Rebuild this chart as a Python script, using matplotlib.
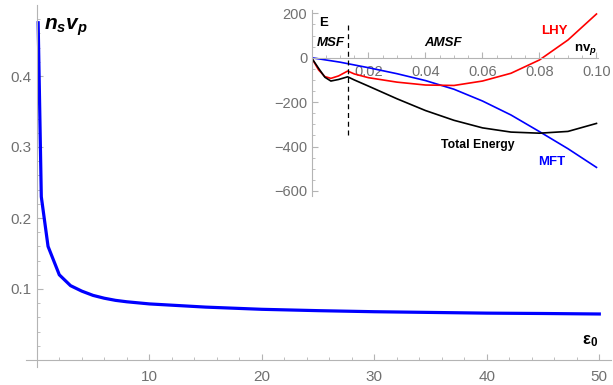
import numpy as np
import matplotlib
matplotlib.use("Agg")
import matplotlib.pyplot as plt

plt.rcParams['font.family'] = ['Liberation Sans', 'DejaVu Sans']
plt.rcParams['mathtext.fontset'] = 'custom'
plt.rcParams['mathtext.rm'] = 'Liberation Sans:bold'
plt.rcParams['mathtext.it'] = 'Liberation Sans:italic:bold'
plt.rcParams['mathtext.bf'] = 'Liberation Sans:bold'

# ==========================================
# DATA
# ==========================================
# main curve: n_s v_p against epsilon_0
eps0 = [0.12, 0.4, 1, 2, 3, 4, 5, 6, 7, 8, 9, 10, 15, 20, 25, 30, 35, 40, 45, 50]
ns_vp = [0.475, 0.230, 0.160, 0.120, 0.1047, 0.097, 0.091, 0.087, 0.084, 0.082,
         0.0805, 0.079, 0.0745, 0.0714, 0.0695, 0.068, 0.067, 0.066, 0.0655, 0.0648]

# inset: energies against n v_p
nvp = [0, 0.0025, 0.0047, 0.0068, 0.0095, 0.0127, 0.015, 0.02, 0.03, 0.04,
       0.05, 0.06, 0.07, 0.08, 0.09, 0.10]
e_lhy = [0, -55, -85, -93, -82, -60, -73, -90, -110, -123,
         -125, -105, -70, -10, 80, 197]
e_total = [0, -48, -88, -105, -98, -86, -100, -128, -185, -238,
           -282, -316, -335, -340, -332, -296]
nvp_mft = [0, 0.01, 0.02, 0.03, 0.04, 0.05, 0.06, 0.07, 0.08, 0.09, 0.10]
e_mft = [0, -20, -45, -72, -103, -142, -195, -258, -333, -410, -494]
msf_boundary = 0.0127

main_xticks = [10, 20, 30, 40, 50]
main_yticks = [0.1, 0.2, 0.3, 0.4]
inset_xticks = [0.02, 0.04, 0.06, 0.08, 0.10]
inset_xlabels = ["0.02", "0.04", "0.06", "0.08", "0.10"]
inset_yticks = [200, 0, -200, -400, -600]
inset_ylabels = ["200", "0", "\u2212200", "\u2212400", "\u2212600"]

AXIS_GRAY = '#b4b4b4'
LABEL_GRAY = '#707070'

W, H = 613, 385
fig = plt.figure(figsize=(W / 100, H / 100), dpi=100)


def px_box(left, top, right, bottom):
    # pixel box -> figure fraction [l, b, w, h]
    return [left / W, 1 - bottom / H, (right - left) / W, (bottom - top) / H]


def mathematica_axes(ax):
    for s in ['top', 'right']:
        ax.spines[s].set_visible(False)
    for s in ['left', 'bottom']:
        ax.spines[s].set_position(('data', 0))
        ax.spines[s].set_color(AXIS_GRAY)
        ax.spines[s].set_linewidth(0.8)
    ax.tick_params(which='both', direction='in', color=AXIS_GRAY, labelcolor=LABEL_GRAY)
    ax.tick_params(which='major', length=4.5, width=0.8)
    ax.tick_params(which='minor', length=2.5, width=0.6)


# ==========================================
# MAIN PLOT
# ==========================================
ax = fig.add_axes(px_box(25.55, 5, 610.55, 367.1))
ax.set_facecolor('none')
ax.plot(eps0, ns_vp, color='#0000ff', lw=2.3, solid_joinstyle='miter')
ax.set_xlim(-1, 51)
ax.set_ylim(-0.01, 0.5)
mathematica_axes(ax)
ax.set_xticks(main_xticks)
ax.set_xticks([v for v in range(2, 51, 2) if v % 10], minor=True)
ax.set_yticks(main_yticks)
ax.set_yticklabels(["0.1", "0.2", "0.3", "0.4"])
ax.set_yticks([v / 100 for v in range(2, 50, 2) if v % 10], minor=True)
ax.tick_params(axis='x', labelsize=11, pad=7)
ax.tick_params(axis='y', labelsize=11, pad=4)
ax.text(2.6, 0.468, r'$n_s v_p$', fontsize=15, ha='center', va='center')
ax.text(49.2, 0.026, r'$\mathrm{\epsilon}_{\mathrm{0}}$', fontsize=12, ha='center', va='center')

# ==========================================
# INSET: energies
# ==========================================
ins = fig.add_axes(px_box(311.5, 10, 597.9, 196.45))
ins.set_facecolor('none')
ins.plot(nvp_mft, e_mft, color='#0000ff', lw=1.2)
ins.plot(nvp, e_lhy, color='#ff0000', lw=1.2)
ins.plot(nvp, e_total, color='black', lw=1.2)
ins.plot([msf_boundary, msf_boundary], [147, -348], color='black', lw=0.9, ls=(0, (4, 3)))
ins.set_xlim(0, 0.1005)
ins.set_ylim(-625, 215)
mathematica_axes(ins)
ins.set_xticks(inset_xticks)
ins.set_xticklabels(inset_xlabels)
ins.set_xticks([v / 1000 for v in range(5, 101, 5) if v % 20], minor=True)
ins.set_yticks(inset_yticks)
ins.set_yticklabels(inset_ylabels)
ins.set_yticks([v for v in range(-600, 201, 50) if v % 200], minor=True)
ins.tick_params(axis='x', labelsize=10.5, pad=5)
ins.tick_params(axis='y', labelsize=10.5, pad=3)

ins.text(0.0044, 158, 'E', fontsize=9.5, fontweight='bold', ha='center', va='center')
ins.text(0.0066, 68, 'MSF', fontsize=9.5, fontweight='bold', style='italic', ha='center', va='center')
ins.text(0.0463, 68, 'AMSF', fontsize=9.5, fontweight='bold', style='italic', ha='center', va='center')
ins.text(0.0853, 120, 'LHY', fontsize=9.5, fontweight='bold', color='#ff0000', ha='center', va='center')
ins.text(0.0960, 39, r'$\mathrm{nv}_p$', fontsize=9.5, ha='center', va='center')
ins.text(0.0582, -393, 'Total Energy', fontsize=8.8, fontweight='bold', ha='center', va='center')
ins.text(0.0844, -468, 'MFT', fontsize=9.5, fontweight='bold', color='#0000ff', ha='center', va='center')

fig.savefig('out.png', dpi=100)
